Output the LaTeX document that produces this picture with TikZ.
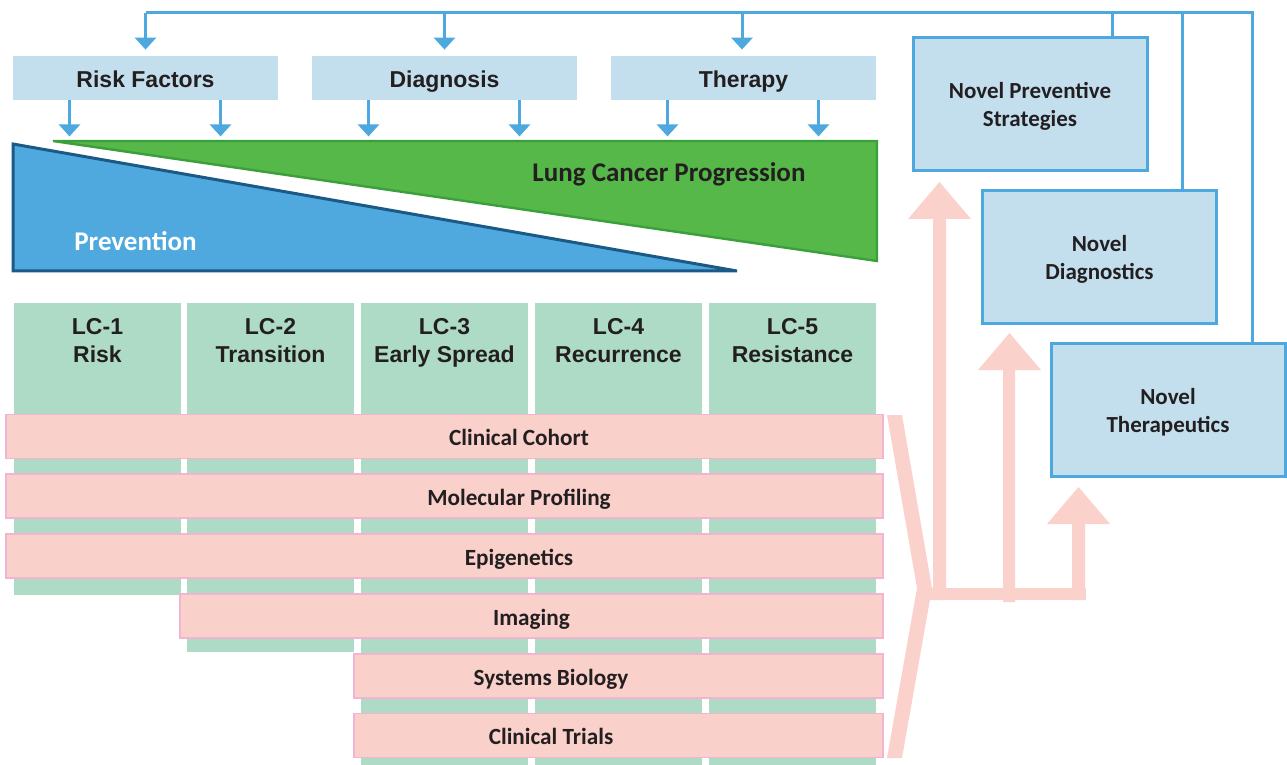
\documentclass[tikz,border=0pt]{standalone}
\usepackage{fontspec}
\setmainfont{Liberation Sans}
\newfontfamily\calfont{Carlito}
\usetikzlibrary{arrows.meta}
\definecolor{lblue}{HTML}{C3DFEE}
\definecolor{mblue}{HTML}{4DA8E0}
\definecolor{tblue}{HTML}{4FA9DF}
\definecolor{dblue}{HTML}{1B5A86}
\definecolor{gfill}{HTML}{56B848}
\definecolor{gline}{HTML}{3BA03C}
\definecolor{colg}{HTML}{AEDBC5}
\definecolor{pfill}{HTML}{FAD0CB}
\definecolor{pline}{HTML}{F3B4D1}
\definecolor{parrow}{HTML}{FBD1CB}
\definecolor{txt}{HTML}{231F20}
\tikzset{
  topbox/.style={fill=lblue, minimum width=132.5pt, minimum height=22pt, inner sep=0pt},
  toplabel/.style={anchor=base, inner sep=0pt, text=txt, font=\bfseries\fontsize{11.5}{13.5}\selectfont},
  novelbox/.style={fill=lblue, draw=mblue, line width=1.5pt, minimum width=117pt, minimum height=66.5pt, inner sep=0pt},
  novellabel/.style={anchor=base, inner sep=0pt, text=txt, font=\calfont\bfseries\fontsize{11.5}{14}\selectfont},
  colbox/.style={fill=colg, minimum width=83.5pt, inner sep=0pt},
  lclabel/.style={anchor=base, inner sep=0pt, text=txt, font=\bfseries\fontsize{11.5}{13.5}\selectfont},
  pinkbar/.style={fill=pfill, draw=pline, line width=0.8pt, minimum height=22pt, inner sep=0pt},
  barlabel/.style={anchor=base, inner sep=0pt, text=txt, font=\calfont\bfseries\fontsize{11.6}{13}\selectfont},
  bline/.style={draw=mblue, line width=1.5pt},
  barrow/.style={draw=mblue, fill=mblue, line width=1.5pt, -{Triangle[width=10.5pt,length=6pt]}},
  bigarrow/.style={fill=parrow, draw=none}
}
\begin{document}
\begin{tikzpicture}[x=0.5pt,y=-0.5pt]
\useasboundingbox (0,0) rectangle (1287,765);

% green stage columns
\node[colbox, minimum height=146pt] (c1) at (97.5,449) {};
\node[colbox, minimum height=174.5pt] (c2) at (270.5,477.5) {};
\node[colbox, minimum height=231pt] (c3) at (444.5,534) {};
\node[colbox, minimum height=231pt] (c4) at (618.5,534) {};
\node[colbox, minimum height=231pt] (c5) at (792.5,534) {};
\def\arraystretch{1}
\setlength{\tabcolsep}{0pt}
\node[lclabel] (c1t) at (97.5,335) {\begin{tabular}[t]{c}LC-1\\Risk\end{tabular}};
\node[lclabel] (c2t) at (270.5,335) {\begin{tabular}[t]{c}LC-2\\Transition\end{tabular}};
\node[lclabel] (c3t) at (444.5,335) {\begin{tabular}[t]{c}LC-3\\Early Spread\end{tabular}};
\node[lclabel] (c4t) at (618.5,335) {\begin{tabular}[t]{c}LC-4\\Recurrence\end{tabular}};
\node[lclabel] (c5t) at (792.5,335) {\begin{tabular}[t]{c}LC-5\\Resistance\end{tabular}};

% pink method bars
\node[pinkbar, minimum width=438.5pt] (cc) at (444.5,436.5) {};
\node[pinkbar, minimum width=438.5pt] (mp) at (444.5,496) {};
\node[pinkbar, minimum width=438.5pt] (ep) at (444.5,556) {};
\node[pinkbar, minimum width=351.5pt] (im) at (531.5,616) {};
\node[pinkbar, minimum width=264.5pt] (sb) at (618.5,676) {};
\node[pinkbar, minimum width=264.5pt] (ct) at (618.5,735.5) {};
\node[barlabel] (cct) at (519,445.5) {Clinical Cohort};
\node[barlabel] (mpt) at (519,505) {Molecular Profiling};
\node[barlabel] (ept) at (519,565) {Epigenetics};
\node[barlabel] (imt) at (531.5,625) {Imaging};
\node[barlabel] (sbt) at (551,685) {Systems Biology};
\node[barlabel] (ctt) at (551,744.5) {Clinical Trials};

% triangles
\path[fill=gfill, draw=gline, line width=1.2pt] (53,141) -- (877,141) -- (877,261) -- cycle;
\path[fill=tblue, draw=dblue, line width=1.5pt] (13,144) -- (737,271) -- (13,271) -- cycle;
\node[anchor=base, inner sep=0pt, text=txt, font=\calfont\bfseries\fontsize{13.5}{16}\selectfont] (lcp) at (669,182) {Lung Cancer Progression};
\node[anchor=base, inner sep=0pt, text=white, font=\calfont\bfseries\fontsize{13.5}{16}\selectfont] (prev) at (135.5,250) {Prevention};

% top boxes
\node[topbox] (rf) at (145.5,78) {};
\node[topbox] (dg) at (444.5,78) {};
\node[topbox] (th) at (743.5,78) {};
\node[toplabel] (rft) at (145.5,88) {Risk Factors};
\node[toplabel] (dgt) at (444.5,88) {Diagnosis};
\node[toplabel] (tht) at (743.5,88) {Therapy};

% novel boxes
\node[novelbox] (np) at (1030,104) {};
\node[novelbox] (nd) at (1099.5,257) {};
\node[novelbox] (nt) at (1168,409.5) {};
\node[novellabel] (npt) at (1030,98.5) {\begin{tabular}[t]{c}Novel Preventive\\Strategies\end{tabular}};
\node[novellabel] (ndt) at (1099.5,251.5) {\begin{tabular}[t]{c}Novel\\Diagnostics\end{tabular}};
\node[novellabel] (ntt) at (1168,404.5) {\begin{tabular}[t]{c}Novel\\Therapeutics\end{tabular}};

% feedback lines
\coordinate (tl) at (146,13);
\draw[bline] ([xshift=41pt]np.north) |- (tl);
\draw[bline] ([xshift=41.25pt]nd.north) |- (tl);
\draw[bline] ([xshift=42pt]nt.north) |- (tl);
\draw[barrow, shorten >=3pt] (rf.north |- tl) -- (rf.north);
\draw[barrow, shorten >=3pt] (dg.north |- tl) -- (dg.north);
\draw[barrow, shorten >=3pt] ([xshift=-0.75pt]th.north |- tl) -- ([xshift=-0.75pt]th.north);
\foreach \b in {rf,dg,th}{
  \draw[barrow] ([xshift=-38pt]\b.south) -- ++(0,36);
  \draw[barrow] ([xshift=37.5pt]\b.south) -- ++(0,36);
}

% pink bracket and arrows
\path[bigarrow] (887,415) -- (902,415) -- (932,588) -- (902,758) -- (887,758) -- (917,588) -- cycle;
\path[bigarrow] (928,588) rectangle (1086,600);
\path[bigarrow] (933,600) -- (933,219) -- (908,219) -- (939.5,182) -- (971,219) -- (946,219) -- (946,600) -- cycle;
\path[bigarrow] (1003,602) -- (1003,370) -- (978,370) -- (1009.5,333) -- (1041,370) -- (1015,370) -- (1015,602) -- cycle;
\path[bigarrow] (1072,600) -- (1072,524) -- (1047,524) -- (1078.5,487) -- (1110,524) -- (1085,524) -- (1085,600) -- cycle;
\end{tikzpicture}
\end{document}
